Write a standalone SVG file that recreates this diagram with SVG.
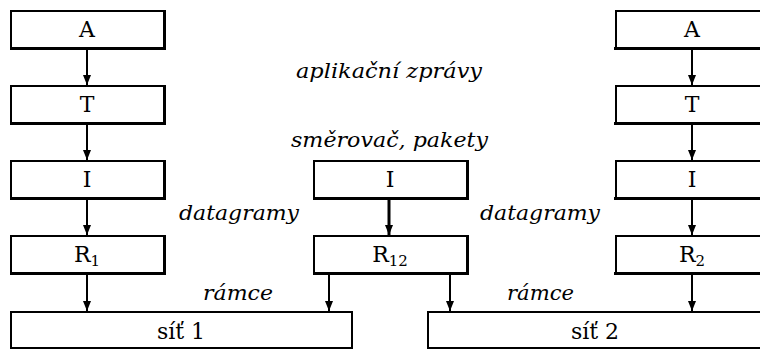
<svg xmlns="http://www.w3.org/2000/svg" width="760" height="352" viewBox="0 0 760 352">
  <defs>
    <marker id="arr" viewBox="0 0 10 10" refX="10" refY="5" markerWidth="10" markerHeight="10" markerUnits="userSpaceOnUse" orient="auto">
      <path d="M0,1 L10,5 L0,9 Z" fill="#000"/>
    </marker>
  </defs>
  <style>
    .box { fill: #fff; stroke: #000; stroke-width: 2; }
    .shadow { fill: #000; }
    .lbl { font-family: "DejaVu Serif", "Liberation Serif", serif; font-size: 22px; fill: #000; text-anchor: middle; }
    .it { font-family: "DejaVu Serif", "Liberation Serif", serif; font-style: italic; font-size: 21px; fill: #000; }
    .sub { font-size: 15px; }
    .edge { stroke: #000; stroke-width: 2; fill: none; marker-end: url(#arr); }
  </style>

  <rect width="760" height="352" fill="#fff"/>

  <!-- left host stack -->
  <g id="hostA-A"><rect class="box" x="11" y="11" width="153" height="37"/><path class="shadow" d="M163,10 h3 v40 h-156 v-3 h153 z"/><text class="lbl" x="87" y="37">A</text></g>
  <g id="hostA-T"><rect class="box" x="11" y="86" width="153" height="37"/><path class="shadow" d="M163,85 h3 v40 h-156 v-3 h153 z"/><text class="lbl" x="87" y="112">T</text></g>
  <g id="hostA-I"><rect class="box" x="11" y="161" width="153" height="37"/><path class="shadow" d="M163,160 h3 v40 h-156 v-3 h153 z"/><text class="lbl" x="87" y="187">I</text></g>
  <g id="hostA-R"><rect class="box" x="11" y="236" width="153" height="37"/><path class="shadow" d="M163,235 h3 v40 h-156 v-3 h153 z"/><text class="lbl" x="87" y="262">R<tspan class="sub" dy="4">1</tspan></text></g>

  <!-- router -->
  <g id="router-I"><rect class="box" x="314" y="161" width="153" height="37"/><path class="shadow" d="M466,160 h3 v40 h-156 v-3 h153 z"/><text class="lbl" x="390" y="187">I</text></g>
  <g id="router-R"><rect class="box" x="314" y="236" width="153" height="37"/><path class="shadow" d="M466,235 h3 v40 h-156 v-3 h153 z"/><text class="lbl" x="390" y="262">R<tspan class="sub" dy="4">12</tspan></text></g>

  <!-- right host stack -->
  <g id="hostB-A"><rect class="box" x="616" y="11" width="153" height="37"/><path class="shadow" d="M614,47 h156 v3 h-156 z"/><text class="lbl" x="692" y="37">A</text></g>
  <g id="hostB-T"><rect class="box" x="616" y="86" width="153" height="37"/><path class="shadow" d="M614,122 h156 v3 h-156 z"/><text class="lbl" x="692" y="112">T</text></g>
  <g id="hostB-I"><rect class="box" x="616" y="161" width="153" height="37"/><path class="shadow" d="M614,197 h156 v3 h-156 z"/><text class="lbl" x="692" y="187">I</text></g>
  <g id="hostB-R"><rect class="box" x="616" y="236" width="153" height="37"/><path class="shadow" d="M614,272 h156 v3 h-156 z"/><text class="lbl" x="692" y="262">R<tspan class="sub" dy="4">2</tspan></text></g>

  <!-- networks -->
  <g id="net1"><rect class="box" x="11" y="312" width="341" height="36"/><text class="lbl" x="181" y="339">síť 1</text></g>
  <g id="net2"><rect class="box" x="428" y="312" width="341" height="36"/><text class="lbl" x="595" y="339">síť 2</text></g>

  <!-- connectors -->
  <g id="edges">
    <line class="edge" x1="87" y1="49" x2="87" y2="85"/>
    <line class="edge" x1="87" y1="124" x2="87" y2="160"/>
    <line class="edge" x1="87" y1="199" x2="87" y2="235"/>
    <line class="edge" x1="87" y1="274" x2="87" y2="311"/>
    <line class="edge" x1="389" y1="199" x2="389" y2="235" style="stroke-width:3"/>
    <line class="edge" x1="329" y1="274" x2="329" y2="311"/>
    <line class="edge" x1="450" y1="274" x2="450" y2="311"/>
    <line class="edge" x1="692" y1="49" x2="692" y2="85"/>
    <line class="edge" x1="692" y1="124" x2="692" y2="160"/>
    <line class="edge" x1="692" y1="199" x2="692" y2="235"/>
    <line class="edge" x1="692" y1="274" x2="692" y2="311"/>
  </g>

  <!-- layer labels -->
  <g id="labels">
    <text class="it" x="296" y="78" textLength="186" lengthAdjust="spacingAndGlyphs">aplikační zprávy</text>
    <text class="it" x="291" y="147" textLength="197" lengthAdjust="spacingAndGlyphs">směrovač, pakety</text>
    <text class="it" x="179" y="220" textLength="120" lengthAdjust="spacingAndGlyphs">datagramy</text>
    <text class="it" x="480" y="220" textLength="120" lengthAdjust="spacingAndGlyphs">datagramy</text>
    <text class="it" x="203" y="300" textLength="70" lengthAdjust="spacingAndGlyphs">rámce</text>
    <text class="it" x="507" y="300" textLength="67" lengthAdjust="spacingAndGlyphs">rámce</text>
  </g>
</svg>
